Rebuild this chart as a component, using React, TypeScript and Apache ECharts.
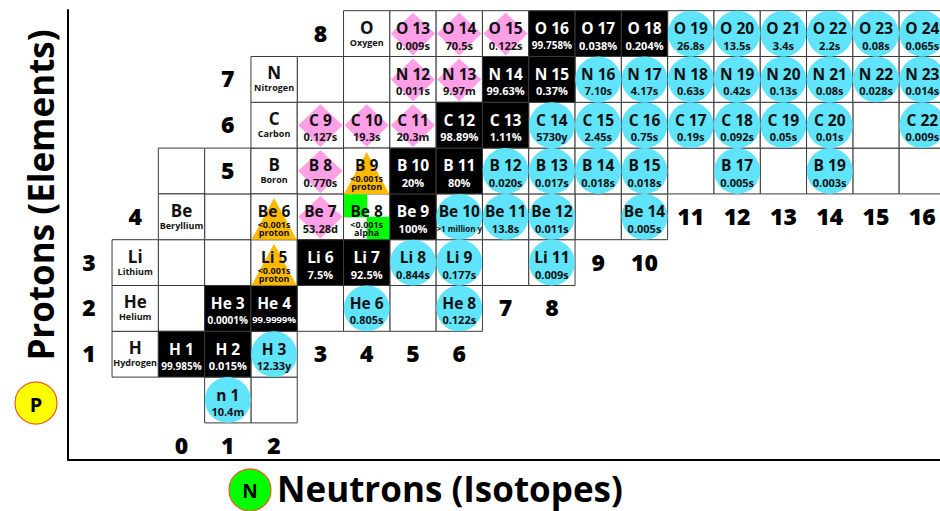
import React, { useEffect, useRef } from 'react';
import * as echarts from 'echarts';

// [protons Z, neutrons N, label, half-life or abundance]
type Nuclide = [number, number, string, string];

const stable: Nuclide[] = [
  [1, 0, 'H 1', '99.985%'],
  [1, 1, 'H 2', '0.015%'],
  [2, 1, 'He 3', '0.0001%'],
  [2, 2, 'He 4', '99.9999%'],
  [3, 3, 'Li 6', '7.5%'],
  [3, 4, 'Li 7', '92.5%'],
  [4, 5, 'Be 9', '100%'],
  [5, 5, 'B 10', '20%'],
  [5, 6, 'B 11', '80%'],
  [6, 6, 'C 12', '98.89%'],
  [6, 7, 'C 13', '1.11%'],
  [7, 7, 'N 14', '99.63%'],
  [7, 8, 'N 15', '0.37%'],
  [8, 8, 'O 16', '99.758%'],
  [8, 9, 'O 17', '0.038%'],
  [8, 10, 'O 18', '0.204%'],
];

const betaMinus: Nuclide[] = [
  [0, 1, 'n 1', '10.4m'],
  [1, 2, 'H 3', '12.33y'],
  [2, 4, 'He 6', '0.805s'],
  [2, 6, 'He 8', '0.122s'],
  [3, 5, 'Li 8', '0.844s'],
  [3, 6, 'Li 9', '0.177s'],
  [3, 8, 'Li 11', '0.009s'],
  [4, 6, 'Be 10', '>1 million y'],
  [4, 7, 'Be 11', '13.8s'],
  [4, 8, 'Be 12', '0.011s'],
  [4, 10, 'Be 14', '0.005s'],
  [5, 7, 'B 12', '0.020s'],
  [5, 8, 'B 13', '0.017s'],
  [5, 9, 'B 14', '0.018s'],
  [5, 10, 'B 15', '0.018s'],
  [5, 12, 'B 17', '0.005s'],
  [5, 14, 'B 19', '0.003s'],
  [6, 8, 'C 14', '5730y'],
  [6, 9, 'C 15', '2.45s'],
  [6, 10, 'C 16', '0.75s'],
  [6, 11, 'C 17', '0.19s'],
  [6, 12, 'C 18', '0.092s'],
  [6, 13, 'C 19', '0.05s'],
  [6, 14, 'C 20', '0.01s'],
  [6, 16, 'C 22', '0.009s'],
  [7, 9, 'N 16', '7.10s'],
  [7, 10, 'N 17', '4.17s'],
  [7, 11, 'N 18', '0.63s'],
  [7, 12, 'N 19', '0.42s'],
  [7, 13, 'N 20', '0.13s'],
  [7, 14, 'N 21', '0.08s'],
  [7, 15, 'N 22', '0.028s'],
  [7, 16, 'N 23', '0.014s'],
  [8, 11, 'O 19', '26.8s'],
  [8, 12, 'O 20', '13.5s'],
  [8, 13, 'O 21', '3.4s'],
  [8, 14, 'O 22', '2.2s'],
  [8, 15, 'O 23', '0.08s'],
  [8, 16, 'O 24', '0.065s'],
];

const betaPlus: Nuclide[] = [
  [4, 3, 'Be 7', '53.28d'],
  [5, 3, 'B 8', '0.770s'],
  [6, 3, 'C 9', '0.127s'],
  [6, 4, 'C 10', '19.3s'],
  [6, 5, 'C 11', '20.3m'],
  [7, 5, 'N 12', '0.011s'],
  [7, 6, 'N 13', '9.97m'],
  [8, 5, 'O 13', '0.009s'],
  [8, 6, 'O 14', '70.5s'],
  [8, 7, 'O 15', '0.122s'],
];

const protonEmitters: Nuclide[] = [
  [3, 2, 'Li 5', '<0.001s'],
  [4, 2, 'Be 6', '<0.001s'],
  [5, 4, 'B 9', '<0.001s'],
];
const protonModeText = 'proton';

const alphaEmitters: Nuclide[] = [[4, 4, 'Be 8', '<0.001s']];
const alphaModeText = 'alpha';

// [Z, N column of the element box, symbol, name]
const elementCells: [number, number, string, string][] = [
  [1, -1, 'H', 'Hydrogen'],
  [2, -1, 'He', 'Helium'],
  [3, -1, 'Li', 'Lithium'],
  [4, 0, 'Be', 'Beryllium'],
  [5, 2, 'B', 'Boron'],
  [6, 2, 'C', 'Carbon'],
  [7, 2, 'N', 'Nitrogen'],
  [8, 4, 'O', 'Oxygen'],
];

// [Z, N] boxes drawn empty
const emptyCells: [number, number][] = [
  [0, 2], [2, 0], [2, 3], [2, 5], [3, 0], [3, 1], [3, 7], [4, 1], [4, 9],
  [5, 0], [5, 1], [5, 11], [5, 13], [5, 15], [5, 16], [6, 15], [7, 3], [7, 4],
];

// proton number labels: [Z row, N column where printed, text]
const protonLabels: [number, number, string][] = [
  [1, -2, '1'], [2, -2, '2'], [3, -2, '3'], [4, -1, '4'],
  [5, 1, '5'], [6, 1, '6'], [7, 1, '7'], [8, 3, '8'],
];
// neutron number labels: [Z row where printed, N column, text]
const neutronLabels: [number, number, string][] = [
  [-1, 0, '0'], [-1, 1, '1'], [-1, 2, '2'],
  [1, 3, '3'], [1, 4, '4'], [1, 5, '5'], [1, 6, '6'],
  [2, 7, '7'], [2, 8, '8'], [3, 9, '9'], [3, 10, '10'],
  [4, 11, '11'], [4, 12, '12'], [4, 13, '13'], [4, 14, '14'], [4, 15, '15'], [4, 16, '16'],
];

const FONT = "'Open Sans', 'Noto Sans', sans-serif";
const CYAN = '#5fe4fb';
const PINK = '#ff9fe6';
const ORANGE = '#ffb900';
const GREEN = '#00ff00';
const BORDER = '#3a3a3a';

function txt(x: number, y: number, text: string, size: number, color: string, weight: any = 'bold', lineHeight?: number) {
  const style: any = {
    text, x, y, fill: color,
    fontSize: size, fontWeight: weight, fontFamily: FONT,
    align: 'center', verticalAlign: 'middle', textAlign: 'center', textVerticalAlign: 'middle',
  };
  if (lineHeight) style.lineHeight = lineHeight;
  return { type: 'text', style };
}

function valueSize(v: string) {
  if (v.length >= 12) return 8;
  if (v.length >= 8) return 9.5;
  if (v.length >= 7) return 10;
  return 11;
}

type Kind = 'stable' | 'circle' | 'diamond' | 'triangle' | 'alpha';

function nuclideSeries(list: Nuclide[], kind: Kind, mode?: string) {
  return {
    type: 'custom',
    coordinateSystem: 'cartesian2d',
    clip: false,
    z: 3,
    silent: true,
    data: list.map((d) => [d[1], d[0]]),
    renderItem: (params: any, api: any) => {
      const item = list[params.dataIndex];
      const c = api.coord([api.value(0), api.value(1)]);
      const s = api.size([1, 1]);
      const w = s[0];
      const h = s[1];
      const cx = c[0];
      const cy = c[1];
      const children: any[] = [];
      let color = '#111';
      if (kind === 'circle') {
        children.push({ type: 'circle', shape: { cx, cy, r: Math.min(w, h) / 2 }, style: { fill: CYAN } });
      } else if (kind === 'diamond') {
        children.push({
          type: 'polygon',
          shape: { points: [[cx, cy - h / 2 + 2], [cx + w / 2 - 1, cy], [cx, cy + h / 2 - 1], [cx - w / 2 + 1, cy]] },
          style: { fill: PINK },
        });
      } else if (kind === 'triangle') {
        children.push({
          type: 'polygon',
          shape: { points: [[cx, cy - h / 2 + 4], [cx + w / 2 - 0.5, cy + h / 2], [cx - w / 2 + 0.5, cy + h / 2]] },
          style: { fill: ORANGE },
        });
      } else if (kind === 'alpha') {
        children.push({ type: 'rect', shape: { x: cx - w / 2 + 0.5, y: cy - h / 2 + 0.5, width: w / 2, height: h / 2 }, style: { fill: GREEN } });
        children.push({ type: 'rect', shape: { x: cx, y: cy, width: w / 2 - 0.5, height: h / 2 - 0.5 }, style: { fill: GREEN } });
      } else if (kind === 'stable') {
        color = '#fff';
      }
      if (mode) {
        children.push(txt(cx, cy - 6, item[2], 15.5, color));
        children.push(txt(cx, cy + 11.5, item[3] + '\n' + mode, 9, color, 'bold', 8));
      } else {
        children.push(txt(cx, cy - 5.5, item[2], 15.5, color));
        children.push(txt(cx, cy + 11.5, item[3], valueSize(item[3]), color));
      }
      return { type: 'group', children };
    },
  };
}

type Box = { n: number; z: number; fill: string };
const boxes: Box[] = [
  ...emptyCells.map((d) => ({ z: d[0], n: d[1], fill: '#fff' })),
  ...elementCells.map((d) => ({ z: d[0], n: d[1], fill: '#fff' })),
  ...betaMinus.map((d) => ({ z: d[0], n: d[1], fill: '#fff' })),
  ...betaPlus.map((d) => ({ z: d[0], n: d[1], fill: '#fff' })),
  ...protonEmitters.map((d) => ({ z: d[0], n: d[1], fill: '#fff' })),
  ...alphaEmitters.map((d) => ({ z: d[0], n: d[1], fill: '#fff' })),
  ...stable.map((d) => ({ z: d[0], n: d[1], fill: '#000' })),
];

const allLabelTexts = [...protonLabels.map((d) => d[2]), ...neutronLabels.map((d) => d[2])];

export default function App() {
  const ref = useRef<HTMLDivElement>(null);
  useEffect(() => {
    if (!ref.current) return;
    const chart = echarts.init(ref.current, undefined, { renderer: 'svg' });
    const axisBase = {
      type: 'value',
      axisLine: { show: true, onZero: false, lineStyle: { color: '#000', width: 2 } },
      axisTick: { show: false },
      axisLabel: { show: false },
      splitLine: { show: false },
    };
    chart.setOption({
      animation: false,
      backgroundColor: '#fff',
      grid: { left: 68, right: 0, top: 10, bottom: 51, containLabel: false },
      xAxis: { ...axisBase, min: -2.451, max: 16.382 },
      yAxis: { ...axisBase, min: -1.31, max: 8.515 },
      series: [
        {
          type: 'custom',
          coordinateSystem: 'cartesian2d',
          clip: false,
          z: 2,
          silent: true,
          data: boxes.map((b) => [b.n, b.z]),
          renderItem: (params: any, api: any) => {
            const b = boxes[params.dataIndex];
            const c = api.coord([api.value(0), api.value(1)]);
            const s = api.size([1, 1]);
            return {
              type: 'rect',
              shape: { x: c[0] - s[0] / 2, y: c[1] - s[1] / 2, width: s[0], height: s[1] },
              style: { fill: b.fill, stroke: BORDER, lineWidth: 1 },
            };
          },
        },
        {
          type: 'custom',
          coordinateSystem: 'cartesian2d',
          clip: false,
          z: 3,
          silent: true,
          data: elementCells.map((d) => [d[1], d[0]]),
          renderItem: (params: any, api: any) => {
            const e = elementCells[params.dataIndex];
            const c = api.coord([api.value(0), api.value(1)]);
            return {
              type: 'group',
              children: [txt(c[0], c[1] - 6.5, e[2], 17, '#111'), txt(c[0], c[1] + 8.5, e[3], 9, '#111')],
            };
          },
        },
        nuclideSeries(stable, 'stable'),
        nuclideSeries(betaMinus, 'circle'),
        nuclideSeries(betaPlus, 'diamond'),
        nuclideSeries(protonEmitters, 'triangle', protonModeText),
        nuclideSeries(alphaEmitters, 'alpha', alphaModeText),
        {
          type: 'custom',
          coordinateSystem: 'cartesian2d',
          clip: false,
          z: 3,
          silent: true,
          data: [
            ...protonLabels.map((d) => [d[1], d[0]]),
            ...neutronLabels.map((d) => [d[1], d[0]]),
          ],
          renderItem: (params: any, api: any) => {
            const c = api.coord([api.value(0), api.value(1)]);
            return txt(c[0], c[1] - 1, allLabelTexts[params.dataIndex], 23, '#000', 800);
          },
        },
      ],
      graphic: [
        {
          type: 'text',
          x: 40,
          y: 195,
          rotation: Math.PI / 2,
          style: {
            text: 'Protons (Elements)', fill: '#000', fontSize: 35, fontWeight: 'bold', fontFamily: FONT,
            align: 'center', verticalAlign: 'middle', textAlign: 'center', textVerticalAlign: 'middle',
          },
        },
        { type: 'circle', shape: { cx: 36, cy: 403, r: 21 }, style: { fill: '#ffff00', stroke: '#f05a28', lineWidth: 1.2 } },
        {
          type: 'text', x: 36, y: 404,
          style: {
            text: 'P', fill: '#000', fontSize: 20, fontWeight: 'bold', fontFamily: FONT,
            align: 'center', verticalAlign: 'middle', textAlign: 'center', textVerticalAlign: 'middle',
          },
        },
        { type: 'circle', shape: { cx: 250, cy: 490, r: 21 }, style: { fill: GREEN, stroke: '#f05a28', lineWidth: 1.2 } },
        {
          type: 'text', x: 250, y: 491,
          style: {
            text: 'N', fill: '#000', fontSize: 19, fontWeight: 'bold', fontFamily: FONT,
            align: 'center', verticalAlign: 'middle', textAlign: 'center', textVerticalAlign: 'middle',
          },
        },
        {
          type: 'text', x: 277, y: 488,
          style: {
            text: 'Neutrons (Isotopes)', fill: '#000', fontSize: 35, fontWeight: 'bold', fontFamily: FONT,
            align: 'left', verticalAlign: 'middle', textAlign: 'left', textVerticalAlign: 'middle',
          },
        },
      ],
    });
    return () => chart.dispose();
  }, []);
  return <div ref={ref} style={{ position: 'fixed', left: 0, top: 0, width: 940, height: 511, background: '#fff' }} />;
}
